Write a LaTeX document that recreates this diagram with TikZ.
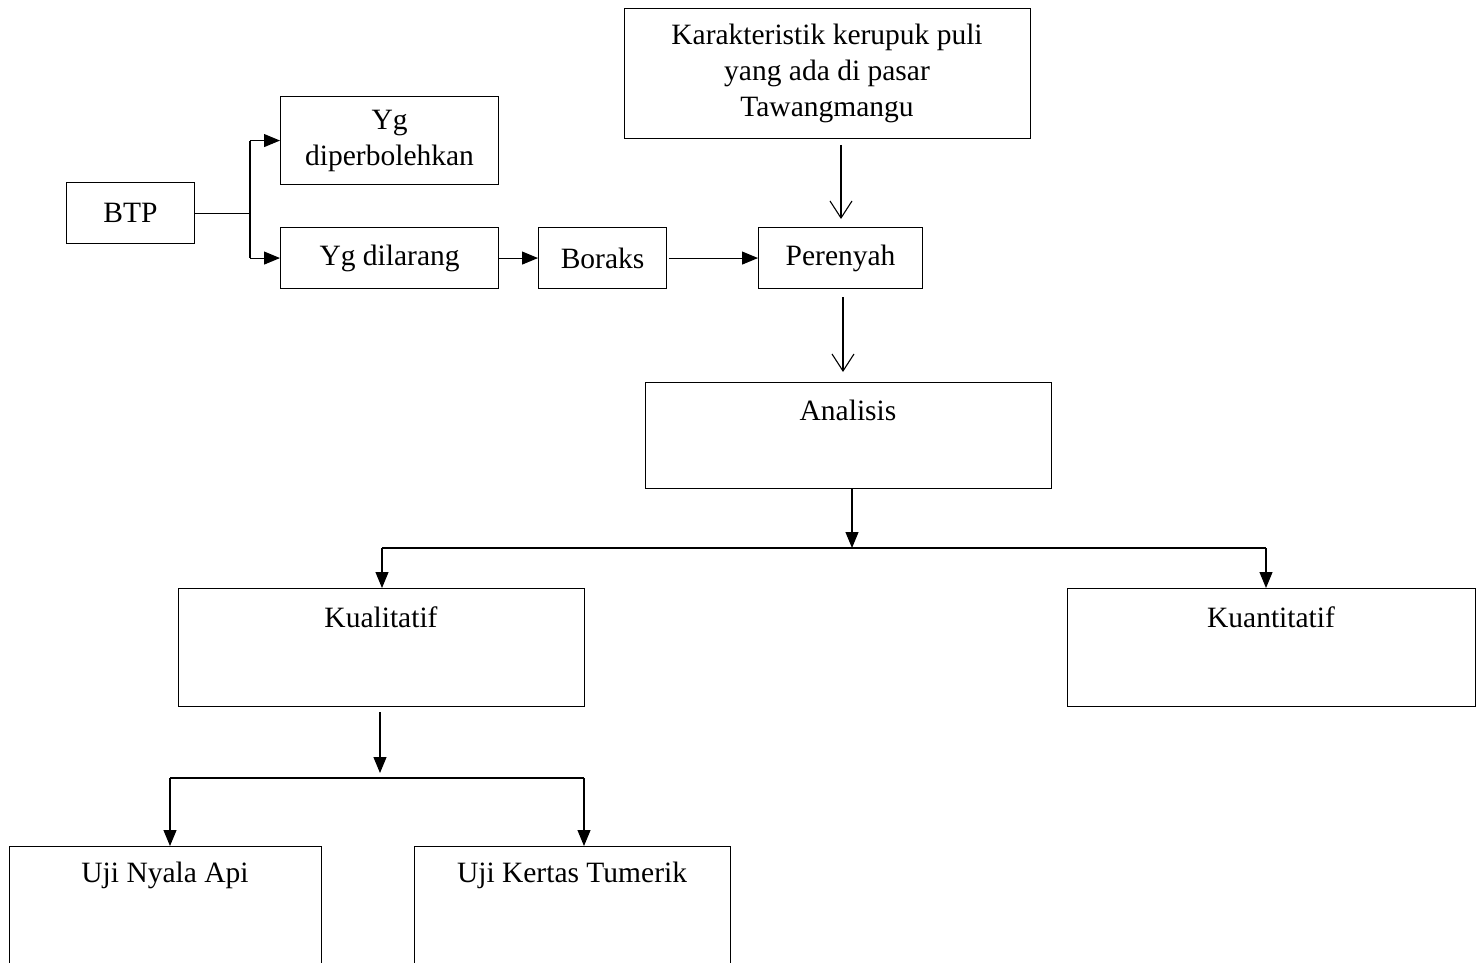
\documentclass[tikz,border=0pt]{standalone}
\usepackage{fontspec}
\setmainfont{Liberation Serif}
\usetikzlibrary{arrows.meta}
\begin{document}
\begin{tikzpicture}[x=1pt,y=-1pt,
  box/.style={draw, line width=1.1pt, inner sep=0pt, anchor=north west},
  lbl/.style={font=\fontsize{29.5}{36}\selectfont, align=center, inner sep=0pt},
  fa/.style={-{Triangle[length=16pt,width=13pt]}, line width=1.1pt},
  oa/.style={-{Straight Barb[length=17pt,width=22pt,line width=1.1pt]}, line width=1.1pt},
  ln/.style={line width=1.1pt}]
\clip (0,0) rectangle (1480,963);
\fill[white] (0,0) rectangle (1480,963);
% boxes
\node[box, minimum width=128pt, minimum height=61pt] (btp) at (66,182) {};
\node[lbl] (btpt) at (btp.center) {BTP};
\node[box, minimum width=218pt, minimum height=88pt] (ygd) at (280,96) {};
\node[lbl] (ygdt) at (ygd.center) {Yg\\diperbolehkan};
\node[box, minimum width=218pt, minimum height=61pt] (ygl) at (280,227) {};
\node[lbl] (yglt) at (ygl.center) {Yg dilarang};
\node[box, minimum width=128pt, minimum height=61pt] (bor) at (538,227) {};
\node[lbl] (bort) at (bor.center) {Boraks};
\node[box, minimum width=164pt, minimum height=61pt] (per) at (758,227) {};
\node[lbl] (pert) at (per.center) {Perenyah};
\node[box, minimum width=406pt, minimum height=130pt] (kar) at (624,8) {};
\node[lbl] (kart) at (827,73) {Karakteristik kerupuk puli\\yang ada di pasar\\Tawangmangu};
\node[box, minimum width=406pt, minimum height=106pt] (ana) at (645,382) {};
\node[lbl] (anat) at (848,410) {Analisis};
\node[box, minimum width=406pt, minimum height=118pt] (kual) at (178,588) {};
\node[lbl] (kualt) at (381,617) {Kualitatif};
\node[box, minimum width=408pt, minimum height=118pt] (kuan) at (1067,588) {};
\node[lbl] (kuant) at (1271,617) {Kuantitatif};
\node[box, minimum width=312pt, minimum height=160pt] (uji1) at (9,846) {};
\node[lbl] (uji1t) at (165,875) {Uji Nyala Api};
\node[box, minimum width=316pt, minimum height=160pt] (uji2) at (414,846) {};
\node[lbl] (uji2t) at (572,875) {Uji Kertas Tumerik};
% connectors
\coordinate (sp1) at (btp.east -| 250,0);
\draw[ln] (btp.east) -- (sp1);
\draw[ln] (sp1 |- ygd.west) -- (sp1 |- ygl.west);
\draw[fa] (sp1 |- ygd.west) -- (ygd.west);
\draw[fa] (sp1 |- ygl.west) -- (ygl.west);
\draw[fa] (ygl.east) -- (bor.west);
\draw[fa] ([xshift=2pt]bor.east) -- (per.west);
\coordinate (k1) at (841,145);
\coordinate (k2) at (841,219);
\draw[oa] (k1) -- (k2);
\coordinate (p1) at (843,297);
\coordinate (p2) at (843,372);
\draw[oa] (p1) -- (p2);
\coordinate (s1) at (852,548);
\coordinate (s1l) at (382,548);
\coordinate (s1r) at (1266,548);
\coordinate (a0) at (852,488);
\draw[fa] (a0) -- (s1);
\draw[ln] (s1l) -- (s1r);
\draw[fa] (s1l) -- (s1l |- kual.north);
\draw[fa] (s1r) -- (s1r |- kuan.north);
\coordinate (q0) at (380,712);
\coordinate (q1) at (380,773);
\draw[fa] (q0) -- (q1);
\coordinate (s2l) at (170,778);
\coordinate (s2r) at (584,778);
\draw[ln] (s2l) -- (s2r);
\draw[fa] (s2l) -- (s2l |- uji1.north);
\draw[fa] (s2r) -- (s2r |- uji2.north);
\end{tikzpicture}
\end{document}
